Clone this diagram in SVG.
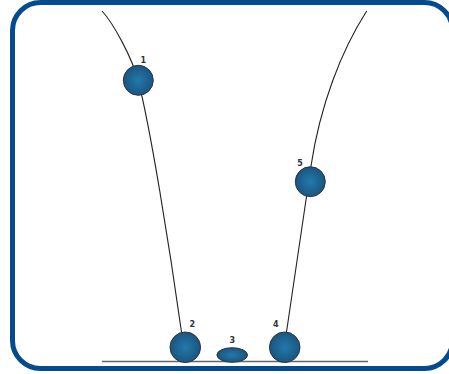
<svg xmlns="http://www.w3.org/2000/svg" width="449" height="374" viewBox="0 0 449 374">
<defs>
<radialGradient id="ballGrad" cx="50%" cy="50%" r="50%">
<stop offset="0" stop-color="#2279ab"/>
<stop offset="1" stop-color="#1b5580"/>
</radialGradient>
<style>
.ball{fill:url(#ballGrad);stroke:#2b3440;stroke-width:1}
.path{fill:none;stroke:#222;stroke-width:1.1}
.lbl{font-family:"DejaVu Sans",sans-serif;font-size:8px;font-weight:bold;fill:#333;text-anchor:middle}
</style>
</defs>
<rect x="0" y="0" width="449" height="374" fill="#fff"/>
<rect x="12.5" y="2.5" width="440" height="366" rx="28" ry="28" fill="#fff" stroke="#034b8e" stroke-width="5"/>
<line x1="102" y1="361.5" x2="368" y2="361.5" stroke="#666" stroke-width="1.5"/>
<g id="connectors">
<path class="path" d="M102,11 C114,24 132,58 138,80 C150,125 170,250 181.5,332"/>
<path class="path" d="M366.7,11 C341,51 320,106 311,166 L286.5,332"/>
</g>
<g id="ball1"><circle class="ball" cx="138.3" cy="80.3" r="15"/><text class="lbl" x="143.3" y="63">1</text></g>
<g id="ball2"><circle class="ball" cx="185.3" cy="347.3" r="15.3"/><text class="lbl" x="192.3" y="327">2</text></g>
<g id="ball3"><ellipse class="ball" cx="232.2" cy="355" rx="15.3" ry="7.3"/><text class="lbl" x="232.3" y="342.5">3</text></g>
<g id="ball4"><circle class="ball" cx="284.7" cy="347.3" r="15.3"/><text class="lbl" x="275.7" y="327">4</text></g>
<g id="ball5"><circle class="ball" cx="310.3" cy="181.7" r="15"/><text class="lbl" x="300" y="166">5</text></g>
</svg>
